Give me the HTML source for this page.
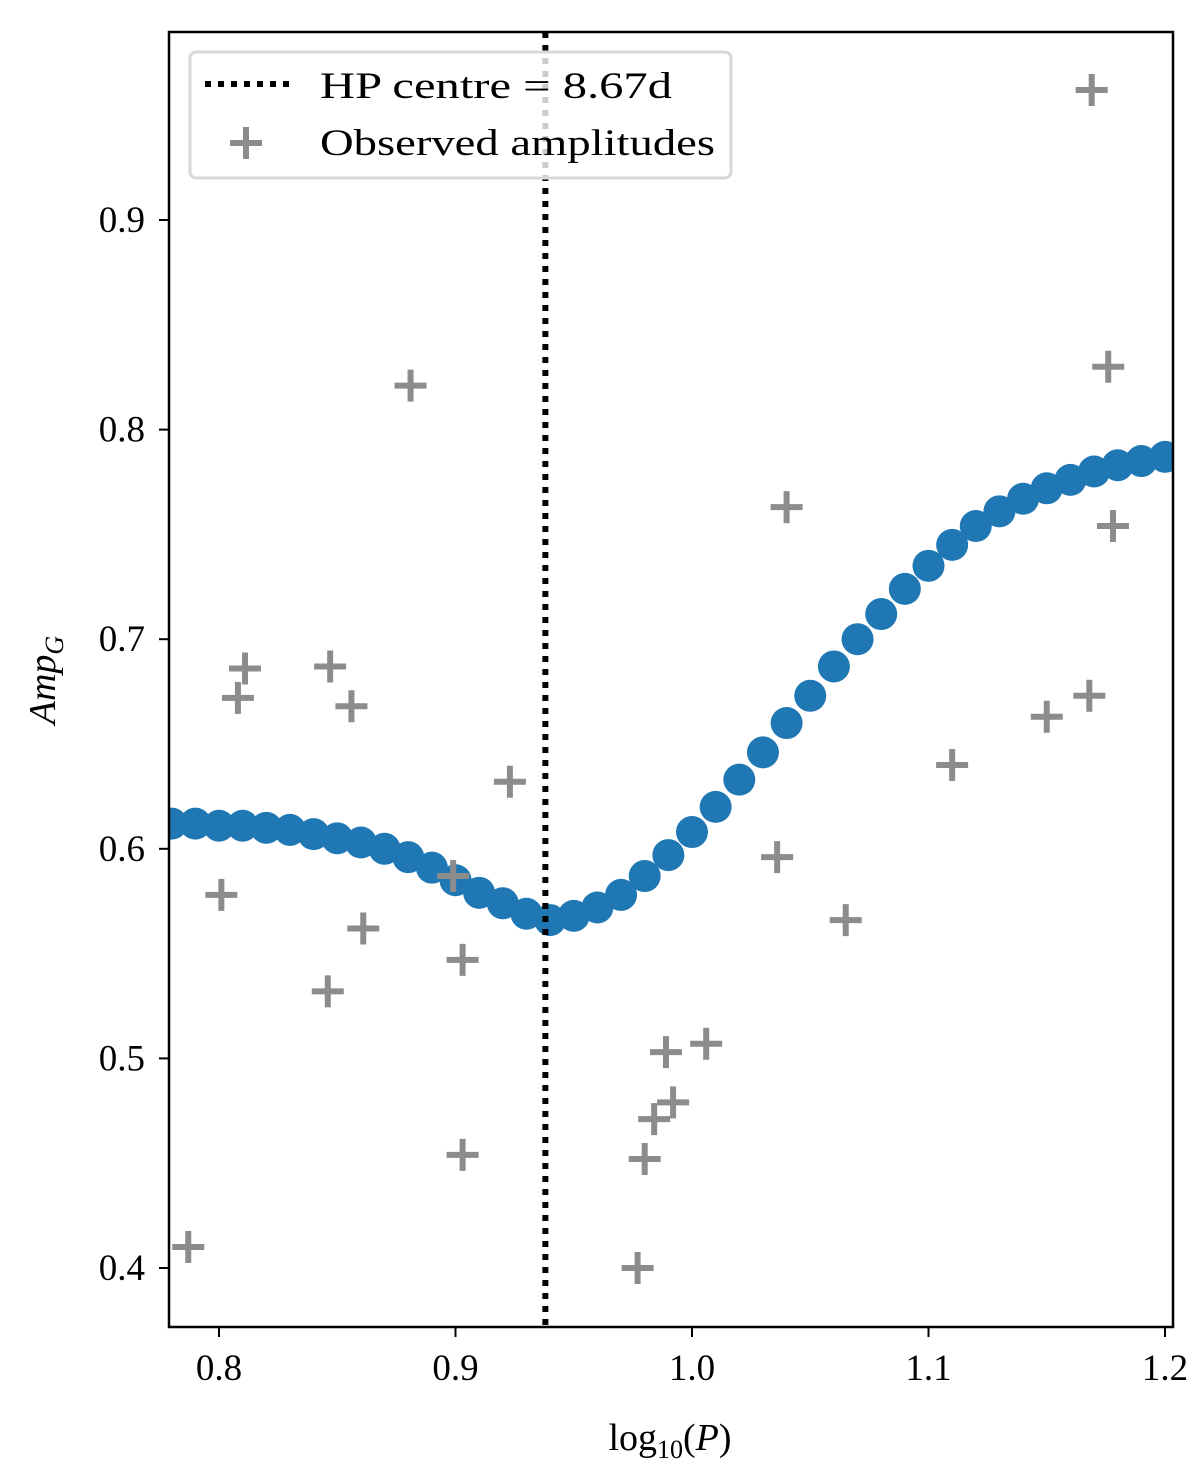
<!DOCTYPE html>
<html><head><meta charset="utf-8"><style>body{margin:0;background:#fff}svg{display:block}text{font-family:"Liberation Serif",serif;fill:#000}</style></head>
<body>
<svg id="chart" width="1200" height="1476" xmlns="http://www.w3.org/2000/svg">
<g id="marks"></g>
<g id="axes"></g>
</svg>
<script>
const curveX = [0.78,0.79,0.80,0.81,0.82,0.83,0.84,0.85,0.86,0.87,0.88,0.89,0.90,0.91,0.92,0.93,0.94,0.95,0.96,0.97,0.98,0.99,1.00,1.01,1.02,1.03,1.04,1.05,1.06,1.07,1.08,1.09,1.10,1.11,1.12,1.13,1.14,1.15,1.16,1.17,1.18,1.19,1.20];
const curveY = [0.612,0.612,0.611,0.611,0.610,0.609,0.607,0.605,0.603,0.600,0.596,0.591,0.585,0.579,0.574,0.569,0.566,0.568,0.572,0.578,0.587,0.597,0.608,0.620,0.633,0.646,0.660,0.673,0.687,0.700,0.712,0.724,0.735,0.745,0.754,0.761,0.767,0.772,0.776,0.780,0.783,0.785,0.787];
const obsX = [0.787,0.801,0.808,0.811,0.847,0.846,0.856,0.861,0.881,0.899,0.903,0.903,0.923,0.977,0.980,0.984,0.989,0.992,1.006,1.036,1.040,1.065,1.110,1.150,1.168,1.169,1.176,1.178];
const obsY = [0.410,0.578,0.672,0.686,0.687,0.532,0.668,0.562,0.821,0.587,0.547,0.454,0.632,0.400,0.452,0.471,0.503,0.479,0.507,0.596,0.763,0.566,0.640,0.663,0.673,0.962,0.830,0.754];
const hpCentre = 0.938;
const xTicks = [0.8,0.9,1.0,1.1,1.2];
const yTicks = [0.4,0.5,0.6,0.7,0.8,0.9];
const xTickLabels = ["0.8","0.9","1.0","1.1","1.2"];
const yTickLabels = ["0.4","0.5","0.6","0.7","0.8","0.9"];

const L=169,R=1173,T=32,B=1327;
const xs=v=>219+(v-0.8)*2365;
const ys=v=>220+(0.9-v)*2096;
const NS="http://www.w3.org/2000/svg";
function mk(tag,attrs,parent){const e=document.createElementNS(NS,tag);for(const k in attrs)e.setAttribute(k,attrs[k]);parent.appendChild(e);return e;}
const marks=document.getElementById('marks'),axes=document.getElementById('axes');
const svg=document.getElementById('chart');
const defs=mk('defs',{},svg);
const cp=mk('clipPath',{id:'clip'},defs);
mk('rect',{x:L,y:T,width:R-L,height:B-T},cp);
marks.setAttribute('clip-path','url(#clip)');

curveX.forEach((x,i)=>{
 const c=mk('circle',{cx:xs(x),cy:ys(curveY[i]),r:16,fill:'#1f77b4'},marks);
 
 
});
obsX.forEach((x,i)=>{
 const px=xs(x),py=ys(obsY[i]);
 const p=mk('path',{d:`M${px-16} ${py}H${px+16}M${px} ${py-16}V${py+16}`,stroke:'#8c8c8c','stroke-width':6},marks);
 
 
});
const vl=mk('line',{x1:xs(hpCentre),x2:xs(hpCentre),y1:T,y2:B,stroke:'#000','stroke-width':6,'stroke-dasharray':'6 7'},marks);



const frame=mk('rect',{x:L,y:T,width:R-L,height:B-T,fill:'none',stroke:'#000','stroke-width':2.5},axes);


xTicks.forEach((v,i)=>{
 mk('line',{x1:xs(v),x2:xs(v),y1:B,y2:B+10,stroke:'#000','stroke-width':2},axes);
 const t=mk('text',{x:xs(v),y:B+53,'font-size':37,'text-anchor':'middle'},axes);t.textContent=xTickLabels[i];
 
 
});
yTicks.forEach((v,i)=>{
 mk('line',{x1:L,x2:L-10,y1:ys(v),y2:ys(v),stroke:'#000','stroke-width':2},axes);
 const t=mk('text',{x:L-24,y:ys(v)+12,'font-size':37,'text-anchor':'end'},axes);t.textContent=yTickLabels[i];
 
 
});
</script>
<svg style="position:absolute;left:0;top:0" width="1200" height="1476" xmlns="http://www.w3.org/2000/svg">
<text x="670" y="1450" font-size="38" text-anchor="middle">log<tspan font-size="26" dy="8">10</tspan><tspan dy="-8">(</tspan><tspan font-style="italic">P</tspan>)</text>
<text transform="translate(55,680) rotate(-90)" font-size="38" text-anchor="middle" font-style="italic">Amp<tspan font-size="26" dy="8">G</tspan></text>
<g>
<rect x="190" y="52" width="541" height="126" rx="6" fill="#fff" fill-opacity="0.8" stroke="#d8d8d8" stroke-width="3"/>
<line x1="205" y1="84" x2="290" y2="84" stroke="#000" stroke-width="6" stroke-dasharray="6 7"/>
<text x="320" y="98" font-size="37" textLength="352" lengthAdjust="spacingAndGlyphs">HP centre = 8.67d</text>
<path d="M230 143H262M246 127V159" stroke="#8c8c8c" stroke-width="6"/>
<text x="320" y="155" font-size="37" textLength="395" lengthAdjust="spacingAndGlyphs">Observed amplitudes</text>
</g>
</svg>
</body></html>
